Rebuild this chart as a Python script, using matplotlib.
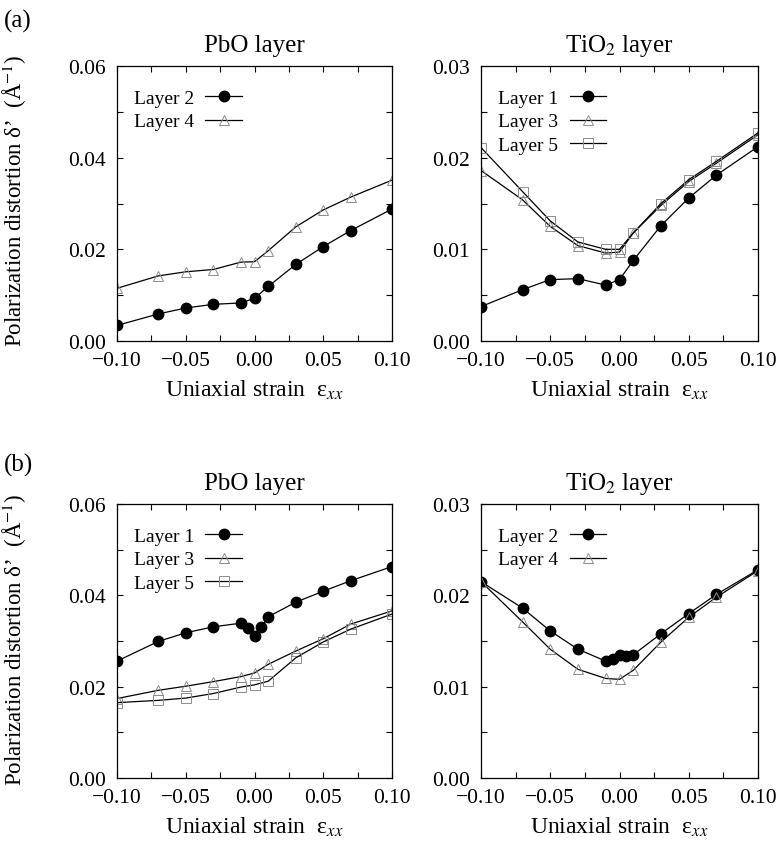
import matplotlib
matplotlib.use("Agg")
import matplotlib.pyplot as plt
from matplotlib.ticker import MultipleLocator, FuncFormatter

plt.rcParams['font.family'] = ['Liberation Serif', 'DejaVu Serif']
plt.rcParams['mathtext.fontset'] = 'stix'
plt.rcParams['axes.unicode_minus'] = True

# ---- data ----
x_main = [-0.10, -0.07, -0.05, -0.03, -0.01, 0.00, 0.01, 0.03, 0.05, 0.07, 0.10]
x_fine = [-0.10, -0.07, -0.05, -0.03, -0.01, -0.005, 0.00, 0.005, 0.01, 0.03, 0.05, 0.07, 0.10]

a_pbo_l2 = [0.0034, 0.0059, 0.0072, 0.0080, 0.0083, 0.0093, 0.0119, 0.0167, 0.0206, 0.0241, 0.0288]
a_pbo_l4 = [0.0115, 0.0142, 0.0151, 0.0156, 0.0172, 0.0173, 0.0197, 0.0249, 0.0286, 0.0314, 0.0351]

a_tio_l1 = [0.00375, 0.0056, 0.0067, 0.0068, 0.0061, 0.0067, 0.0088, 0.0126, 0.0156, 0.0181, 0.0212]
a_tio_l3 = [0.0186, 0.0154, 0.0125, 0.0104, 0.0096, 0.0097, 0.0118, 0.0148, 0.0174, 0.0194, 0.0225]
a_tio_l5 = [0.0211, 0.0163, 0.0131, 0.0108, 0.0100, 0.0100, 0.0118, 0.0150, 0.0176, 0.0196, 0.0227]

b_pbo_l1 = [0.0256, 0.0299, 0.0318, 0.0331, 0.0339, 0.0328, 0.0310, 0.0330, 0.0353, 0.0385, 0.0409, 0.0432, 0.0463]
b_pbo_l3 = [0.0174, 0.0192, 0.0201, 0.0211, 0.0222, 0.0230, 0.0249, 0.0278, 0.0305, 0.0337, 0.0366]
b_pbo_l5 = [0.0165, 0.0170, 0.0175, 0.0185, 0.0199, 0.0204, 0.0212, 0.0263, 0.0298, 0.0326, 0.0359]

b_tio_l2 = [0.0215, 0.0186, 0.0161, 0.0141, 0.0128, 0.0130, 0.0135, 0.0134, 0.0135, 0.0158, 0.0180, 0.0201, 0.0228]
b_tio_l4 = [0.0215, 0.0171, 0.0141, 0.0119, 0.0109, 0.0108, 0.0118, 0.0149, 0.0176, 0.0198, 0.0227]

titles = ["PbO layer", r"TiO$_2$ layer"]
xlabel = r"Uniaxial strain  ε$_{xx}$"
ylabel = r"Polarization distortion δ’  (Å$^{-1}$)"

# ---- figure ----
W, H = 778, 854
fig = plt.figure(figsize=(W / 100, H / 100), dpi=100)

def px_axes(l, t, r, b):
    return fig.add_axes([l / W, 1 - b / H, (r - l) / W, (b - t) / H])

ax_al = px_axes(117, 67, 392, 342)
ax_ar = px_axes(481, 67, 758, 342)
ax_bl = px_axes(117, 505, 392, 779)
ax_br = px_axes(481, 505, 758, 779)

GRAY = '#8c8c8c'
circ = dict(color='black', lw=0.9, marker='o', ms=7.5, mfc='black', mec='black')
tri = dict(color='black', lw=0.9, marker='^', ms=7, mfc='none', mec=GRAY, mew=0.7)
sq = dict(color='black', lw=0.9, marker='s', ms=7, mfc='none', mec=GRAY, mew=0.7)

fmt = FuncFormatter(lambda v, p: ('%.2f' % v).replace('-', '\u2212') if abs(v) > 1e-9 else '0.00')

def style(ax, ymax, ymajor, yminor, title):
    ax.set_xlim(-0.10, 0.10)
    ax.set_ylim(0.0, ymax)
    ax.xaxis.set_major_locator(MultipleLocator(0.05))
    ax.xaxis.set_minor_locator(MultipleLocator(0.025))
    ax.yaxis.set_major_locator(MultipleLocator(ymajor))
    ax.yaxis.set_minor_locator(MultipleLocator(yminor))
    ax.xaxis.set_major_formatter(fmt)
    ax.yaxis.set_major_formatter(fmt)
    ax.tick_params(which='both', direction='in', top=True, right=True, width=0.8)
    ax.tick_params(which='major', length=4, labelsize=15.5)
    ax.tick_params(which='minor', length=4)
    ax.tick_params(axis='x', which='major', pad=7)
    ax.tick_params(axis='y', which='major', pad=8)
    for s in ax.spines.values():
        s.set_linewidth(0.9)
    ax.set_title(title, fontsize=18, pad=11)
    ax.set_xlabel(xlabel, fontsize=17, labelpad=6)

def legend(ax, order=None):
    h, l = ax.get_legend_handles_labels()
    if order is not None:
        h = [h[i] for i in order]
        l = [l[i] for i in order]
    ax.legend(h, l, loc='upper left', bbox_to_anchor=(0.06, 0.915), frameon=False,
              markerfirst=False, fontsize=14, handlelength=1.9, handletextpad=0.6,
              labelspacing=0.3, borderpad=0, borderaxespad=0)

# (a) PbO
ax_al.plot(x_main, a_pbo_l4, label='Layer 4', **tri)
ax_al.plot(x_main, a_pbo_l2, label='Layer 2', **circ)
style(ax_al, 0.06, 0.02, 0.01, titles[0])
legend(ax_al, order=[1, 0])

# (a) TiO2
ax_ar.plot(x_main, a_tio_l1, label='Layer 1', **circ)
ax_ar.plot(x_main, a_tio_l3, label='Layer 3', **tri)
ax_ar.plot(x_main, a_tio_l5, label='Layer 5', **sq)
style(ax_ar, 0.03, 0.01, 0.005, titles[1])
legend(ax_ar)

# (b) PbO
ax_bl.plot(x_fine, b_pbo_l1, label='Layer 1', **circ)
ax_bl.plot(x_main, b_pbo_l3, label='Layer 3', **tri)
ax_bl.plot(x_main, b_pbo_l5, label='Layer 5', **sq)
style(ax_bl, 0.06, 0.02, 0.01, titles[0])
legend(ax_bl)

# (b) TiO2
ax_br.plot(x_fine, b_tio_l2, label='Layer 2', **circ)
ax_br.plot(x_main, b_tio_l4, label='Layer 4', **tri)
style(ax_br, 0.03, 0.01, 0.005, titles[1])
legend(ax_br)

# y labels
fig.text(15 / W, 1 - 201 / H, ylabel, rotation=90, ha='center', va='center', fontsize=16.5)
fig.text(15 / W, 1 - 640 / H, ylabel, rotation=90, ha='center', va='center', fontsize=16.5)

# panel labels
fig.text(4 / W, 1 - 28 / H, '(a)', fontsize=18, ha='left', va='baseline')
fig.text(4 / W, 1 - 472 / H, '(b)', fontsize=18, ha='left', va='baseline')

fig.savefig('out.png', dpi=100)
